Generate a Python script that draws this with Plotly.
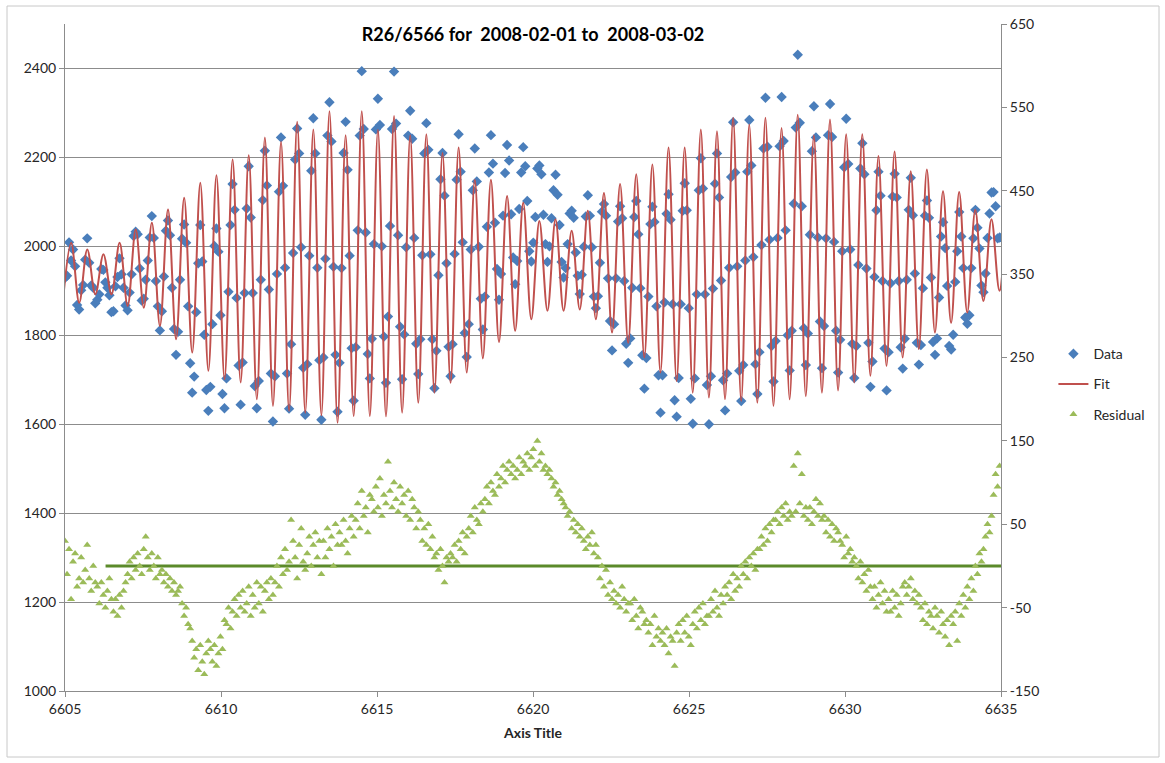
import numpy as np
import plotly.graph_objects as go

# ---- data ----------------------------------------------------------------
# Samples every T/8 of the M2 tide (0.0647 d), starting at day 6605.0
SAMPLE_START = 6605.0
SAMPLE_STEP = 0.0647

DATA = [
    1929, 1934, 2009, 1968, 1993, 1955, 1868, 1858,
    1901, 1913, 1970, 2018, 1963, 1912, 1907, 1872,
    1880, 1892, 1949, 1947, 1919, 1907, 1890, 1852,
    1854, 1910, 1931, 1973, 1937, 1907, 1867, 1856,
    1896, 1937, 2023, 2033, 2027, 1950, 1878, 1882,
    1925, 1968, 2020, 2068, 2019, 1922, 1865, 1811,
    1854, 1932, 2035, 2058, 2025, 1907, 1814, 1756,
    1808, 1925, 2017, 2049, 2008, 1865, 1737, 1671,
    1707, 1852, 1962, 2048, 1966, 1801, 1677, 1630,
    1684, 1825, 2001, 2040, 1988, 1845, 1668, 1636,
    1703, 1898, 2048, 2140, 2082, 1884, 1732, 1644,
    1739, 1895, 2085, 2180, 2065, 1895, 1686, 1636,
    1697, 1925, 2104, 2215, 2137, 1903, 1714, 1606,
    1708, 1938, 2123, 2245, 2136, 1952, 1714, 1635,
    1780, 1985, 2195, 2265, 2209, 1998, 1727, 1621,
    1735, 1979, 2170, 2288, 2209, 1952, 1744, 1610,
    1750, 1972, 2249, 2324, 2236, 1954, 1756, 1628,
    1738, 1951, 2210, 2280, 2172, 1979, 1771, 1653,
    1773, 2036, 2249, 2394, 2264, 2031, 1758, 1703,
    1792, 2005, 2263, 2332, 2273, 2000, 1797, 1693,
    1842, 2046, 2264, 2393, 2276, 2025, 1819, 1701,
    1802, 1998, 2249, 2305, 2242, 2019, 1781, 1713,
    1791, 1980, 2209, 2277, 2217, 1982, 1791, 1681,
    1765, 1935, 2151, 2210, 2114, 1962, 1774, 1708,
    1780, 1983, 2150, 2252, 2168, 2009, 1805, 1751,
    1825, 1993, 2126, 2220, 2146, 1999, 1882, 1813,
    1887, 2044, 2166, 2250, 2186, 2053, 1949, 1880,
    1938, 2069, 2165, 2228, 2193, 2072, 1975, 1915,
    1967, 2084, 2166, 2223, 2180, 2102, 1989, 1966,
    2008, 2066, 2175, 2182, 2162, 2071, 2005, 1965,
    2000, 2063, 2126, 2161, 2116, 2048, 1965, 1930,
    1951, 2005, 2074, 2080, 2064, 1986, 1934, 1893,
    1936, 1999, 2067, 2115, 2069, 1998, 1887, 1861,
    1888, 1963, 2078, 2095, 2069, 1928, 1832, 1766,
    1825, 1928, 2056, 2090, 2063, 1922, 1781, 1738,
    1793, 1907, 2066, 2102, 2027, 1906, 1755, 1680,
    1749, 1887, 2050, 2089, 2055, 1865, 1710, 1626,
    1710, 1874, 2073, 2117, 2060, 1870, 1654, 1617,
    1704, 1870, 2080, 2142, 2081, 1861, 1657, 1601,
    1703, 1892, 2126, 2198, 2130, 1892, 1688, 1600,
    1708, 1905, 2141, 2209, 2110, 1923, 1699, 1631,
    1714, 1952, 2156, 2279, 2166, 1955, 1720, 1652,
    1733, 1968, 2168, 2284, 2182, 1976, 1735, 1668,
    1762, 2003, 2220, 2334, 2224, 2015, 1776, 1696,
    1787, 2019, 2225, 2336, 2237, 2036, 1800, 1721,
    1810, 2096, 2267, 2431, 2278, 2090, 1816, 1733,
    1804, 2026, 2214, 2315, 2245, 2020, 1831, 1726,
    1821, 2018, 2250, 2320, 2246, 2010, 1810, 1716,
    1790, 1989, 2178, 2287, 2185, 1993, 1781, 1704,
    1776, 1958, 2175, 2232, 2162, 1950, 1783, 1684,
    1741, 1931, 2081, 2168, 2114, 1922, 1770, 1676,
    1762, 1917, 2112, 2163, 2110, 1922, 1773, 1725,
    1792, 1925, 2082, 2154, 2070, 1939, 1783, 1734,
    1778, 1906, 2069, 2103, 2064, 1930, 1785, 1756,
    1793, 1885, 2022, 2054, 1996, 1911, 1776, 1768,
    1801, 1920, 1989, 2077, 2022, 1951, 1840, 1826,
    1845, 1951, 2018, 2082, 2042, 1995, 1912, 1897,
    1939, 2019, 2074, 2121, 2122, 2090, 2018, 2020,
]

RESIDUAL = [
    30, -10, 20, -40, 5, 15, -25, -15,
    10, -20, -5, 25, -15, -30, 0, -20,
    -25, -45, -20, -35, -50, -30, -15, -40,
    -55, -40, -60, -35, -50, -30, -20, -10,
    5, -15, 10, -5, 15, 0, -10, 20,
    35, 10, -5, 15, 0, -15, 10, -10,
    -5, -20, -10, -25, -15, -30, -20, -35,
    -30, -25, -45, -60, -50, -70, -75, -90,
    -110, -100, -125, -95, -115, -130, -105, -90,
    -100, -115, -95, -120, -105, -85, -100, -65,
    -70, -50, -75, -55, -40, -60, -35, -50,
    -30, -55, -45, -25, -60, -35, -50, -20,
    -45, -25, -55, -30, -20, -40, -15, -35,
    -20, 0, -25, 10, -10, 20, -5, 5,
    55, 30, 10, -15, 25, 45, 5, -5,
    15, 35, 0, 25, 40, 10, 30, -10,
    30, 10, 45, 20, 35, 0, 50, 25,
    40, 25, 55, 30, 15, 45, 60, 35,
    55, 75, 45, 90, 60, 70, 40, 85,
    80, 65, 95, 70, 105, 60, 85, 75,
    125, 90, 70, 100, 80, 65, 95, 75,
    85, 60, 90, 55, 80, 70, 45, 65,
    55, 30, 45, 25, 50, 20, 35, 10,
    15, -5, 20, 0, -20, 10, 5, 15,
    10, 25, 5, 30, 20, 40, 15, 35,
    45, 60, 40, 70, 55, 50, 75, 65,
    80, 95, 75, 100, 90, 85, 110, 95,
    105, 120, 100, 115, 125, 110, 120, 105,
    115, 130, 110, 125, 120, 135, 115, 130,
    140, 120, 150, 125, 135, 115, 120, 110,
    115, 105, 95, 100, 85, 90, 80, 75,
    70, 60, 65, 45, 55, 40, 50, 35,
    45, 30, 20, 35, 25, 40, 15, 25,
    10, -15, 0, -25, -5, -35, -20, -40,
    -30, -45, -35, -50, -25, -40, -55, -45,
    -45, -65, -40, -60, -75, -50, -55, -70,
    -65, -80, -70, -95, -60, -85, -75, -90,
    -80, -95, -75, -105, -85, -90, -120, -80,
    -70, -90, -65, -80, -60, -85, -95, -70,
    -55, -75, -50, -65, -45, -70, -60, -60,
    -40, -55, -30, -50, -60, -35, -45, -25,
    -35, -20, -40, -10, -30, -15, -25, 0,
    -10, 5, -15, 10, 0, 15, -5, 20,
    20, 35, 25, 45, 30, 50, 40, 55,
    55, 65, 50, 70, 60, 75, 55, 65,
    60, 120, 65, 135, 75, 110, 60, 70,
    55, 70, 50, 65, 80, 60, 75, 55,
    60, 40, 55, 35, 50, 30, 45, 40,
    30, 25, 10, 35, 15, 20, 5, 10,
    0, -15, 5, -20, -10, -30, -5, -25,
    -40, -25, -50, -35, -20, -45, -30, -55,
    -40, -55, -30, -50, -35, -60, -45, -25,
    -20, -35, -25, -15, -40, -30, -45, -35,
    -50, -65, -45, -70, -55, -60, -75, -50,
    -60, -80, -55, -70, -85, -65, -95, -60,
    -70, -55, -90, -45, -60, -35, -50, -25,
    -40, -15, -30, 0, -10, 15, 5, 20,
    35, 50, 40, 60, 85, 110, 95, 120,
]

# Fitted tide: successive low and high waters, half an M2 period apart
FIT_START = 6604.938
FIT_HALF_PERIOD = 0.25875
FIT_LOWS = [
    1880, 1873, 1892, 1892, 1866, 1862, 1821, 1791, 1761, 1720,
    1701, 1694, 1656, 1641, 1630, 1626, 1620, 1603, 1618, 1618,
    1618, 1626, 1648, 1671, 1693, 1716, 1748, 1785, 1810, 1836,
    1855, 1855, 1858, 1836, 1806, 1783, 1750, 1716, 1697, 1671,
    1660, 1656, 1652, 1648, 1641, 1656, 1663, 1671, 1676, 1694,
    1709, 1731, 1750, 1769, 1806, 1828, 1851, 1877, 1900, 1915,
]
FIT_HIGHS = [
    2008, 1993, 1982, 2008, 2038, 2053, 2083, 2109, 2143, 2160,
    2195, 2205, 2245, 2235, 2280, 2263, 2304, 2250, 2304, 2262,
    2293, 2250, 2252, 2210, 2222, 2150, 2150, 2113, 2098, 2057,
    2061, 2035, 2080, 2120, 2140, 2162, 2184, 2222, 2222, 2263,
    2259, 2289, 2274, 2289, 2266, 2296, 2250, 2285, 2252, 2252,
    2203, 2213, 2169, 2173, 2124, 2122, 2082, 2061, 2040,
]

# Zero reference for the residual series
BASELINE_X = [6606.3, 6635.0]
BASELINE_Y = [0, 0]

# Secondary (residual) axis ticks, written with a plain hyphen
RESID_TICKS = [-150, -50, 50, 150, 250, 350, 450, 550, 650]
RESID_TICK_TEXT = ["-150", "-50", "50", "150", "250", "350", "450", "550", "650"]

TITLE = "R26/6566 for  2008-02-01 to  2008-03-02"
X_TITLE = "Axis Title"

# ---- derived series ------------------------------------------------------
t_samples = SAMPLE_START + SAMPLE_STEP * np.arange(len(DATA))

fit_vals = []
for i in range(len(FIT_LOWS)):
    fit_vals.append(FIT_LOWS[i])
    if i < len(FIT_HIGHS):
        fit_vals.append(FIT_HIGHS[i])
t_fit = FIT_START + FIT_HALF_PERIOD * np.arange(len(fit_vals))

# ---- figure --------------------------------------------------------------
BLUE = "#4a7ebb"
RED = "#c0504d"
GREEN = "#9bbb59"
DARK_GREEN = "#5b8a2a"
GRID = "#8c8c8c"
TEXT = "#262626"
FONT = "Lato"

fig = go.Figure()

fig.add_trace(go.Scatter(
    x=t_samples, y=DATA, mode="markers", name="Data",
    marker=dict(symbol="diamond", size=8, color=BLUE),
    legendgroup="a",
))
fig.add_trace(go.Scatter(
    x=t_fit, y=fit_vals, mode="lines", name="Fit",
    line=dict(color=RED, width=2, shape="spline", smoothing=1.0),
    legendgroup="b",
))
fig.add_trace(go.Scatter(
    x=BASELINE_X, y=BASELINE_Y, mode="lines", yaxis="y2",
    line=dict(color=DARK_GREEN, width=3), showlegend=False,
    hoverinfo="skip",
))
fig.add_trace(go.Scatter(
    x=t_samples, y=RESIDUAL, mode="markers", name="Residual", yaxis="y2",
    marker=dict(symbol="triangle-up", size=7, color=GREEN),
    legendgroup="c",
))

fig.update_layout(
    width=1165, height=763,
    margin=dict(l=65, r=164, t=24, b=72),
    paper_bgcolor="white", plot_bgcolor="white",
    font=dict(family=FONT, size=14, color=TEXT),
    showlegend=True,
    title=dict(
        text=TITLE, x=0.5, xref="paper", xanchor="center",
        y=1 - 35 / 763, yref="container", yanchor="middle",
        font=dict(family=FONT, size=18, color="#000000", weight="bold"),
    ),
    xaxis=dict(
        range=[6605, 6635], tick0=6605, dtick=5,
        showgrid=False, zeroline=False,
        showline=True, linecolor=GRID, linewidth=1,
        ticks="outside", ticklen=5, tickcolor=GRID,
        title=dict(text=X_TITLE, font=dict(family=FONT, size=14,
                                          color="#262626", weight="bold"),
                   standoff=12),
    ),
    yaxis=dict(
        range=[1000, 2500], tick0=1000, dtick=200,
        showgrid=True, gridcolor=GRID, gridwidth=1, zeroline=False,
        showline=True, linecolor=GRID, linewidth=1,
        ticks="outside", ticklen=5, tickcolor=GRID,
    ),
    yaxis2=dict(
        range=[-150, 650], tickmode="array",
        tickvals=RESID_TICKS, ticktext=RESID_TICK_TEXT,
        overlaying="y", side="right",
        showgrid=False, zeroline=False,
        showline=True, linecolor=GRID, linewidth=1,
        ticks="outside", ticklen=5, tickcolor=GRID,
    ),
    legend=dict(
        x=1.056, xanchor="left", y=0.46, yanchor="middle",
        bgcolor="rgba(0,0,0,0)", tracegroupgap=9,
        font=dict(family=FONT, size=14, color=TEXT),
    ),
    shapes=[dict(
        type="rect", xref="paper", yref="paper",
        x0=(7 - 65) / 936, x1=(1159 - 65) / 936,
        y0=(691 - 757) / 667, y1=(691 - 6) / 667,
        line=dict(color="#c8c8c8", width=1), layer="below",
    )],
)

fig.write_html("out.html")
